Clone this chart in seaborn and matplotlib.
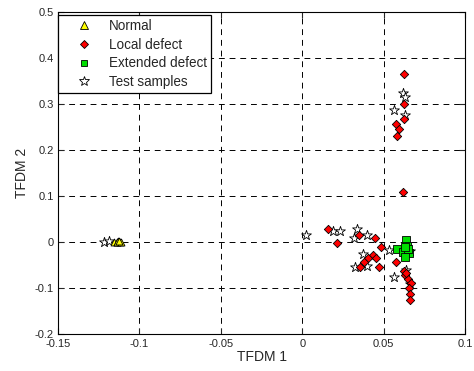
import numpy as np
import pandas as pd
import matplotlib
matplotlib.use("Agg")
import matplotlib.pyplot as plt
import seaborn as sns
from matplotlib.lines import Line2D

sns.set_style("white")
plt.rcParams['font.family'] = ['Liberation Sans', 'DejaVu Sans']

# Class "Normal"
normal_x = [-0.1154, -0.1140, -0.1130, -0.1120, -0.1135, -0.1115, -0.1125]
normal_y = [0.0010, 0.0000, 0.0015, -0.0010, -0.0005, 0.0005, 0.0020]

# Class "Local defect"
local_x = [0.0156, 0.0212, 0.0346, 0.0449, 0.0486, 0.0432, 0.0407, 0.0381,
           0.0356, 0.0455, 0.0469, 0.0578, 0.0624, 0.0634, 0.0648, 0.0669,
           0.0654, 0.0665, 0.0661, 0.0640, 0.0623, 0.0625, 0.0628, 0.0578,
           0.0593, 0.0580, 0.0617]
local_y = [0.0289, -0.0022, 0.0163, 0.0089, -0.0119, -0.0282, -0.0356, -0.0430,
           -0.0541, -0.0341, -0.0541, -0.0445, -0.0637, -0.0726, -0.0800, -0.0890,
           -0.1000, -0.1120, -0.1260, -0.0680, 0.3660, 0.2990, 0.2680, 0.2570,
           0.2460, 0.2310, 0.1090]

# Class "Extended defect"
extended_x = [0.0640, 0.0582, 0.0617, 0.0644, 0.0654, 0.0634, 0.0648, 0.0630]
extended_y = [0.0052, -0.0156, -0.0207, -0.0096, -0.0245, -0.0319, -0.0150, -0.0100]

# Unlabelled test samples
test_x = [-0.1216, -0.1185, 0.0023, 0.0191, 0.0233,
          0.0335, 0.0319, 0.0401, 0.0372, 0.0325, 0.0397, 0.0531, 0.0566,
          0.0665, 0.0617, 0.0630, 0.0566, 0.0634, 0.0660, 0.0640]
test_y = [0.0000, 0.0015, 0.0163, 0.0237, 0.0237,
          0.0289, 0.0089, 0.0163, -0.0267, -0.0541, -0.0526, -0.0170, -0.0763,
          -0.0910, 0.3240, 0.3160, 0.2870, 0.2760, -0.0200, -0.0600]

x_ticks = [-0.15, -0.1, -0.05, 0, 0.05, 0.1]
y_ticks = [-0.2, -0.1, 0, 0.1, 0.2, 0.3, 0.4, 0.5]

fig = plt.figure(figsize=(4.74, 3.71), dpi=100)
ax = fig.add_axes([0.1224, 0.0997, 0.8586, 0.868])

grid_style = dict(color='black', linewidth=0.7, linestyle=(0, (6, 5)), zorder=0)
for xv in x_ticks[1:-1]:
    ax.axvline(xv, **grid_style)
for yv in y_ticks[1:-1]:
    ax.axhline(yv, **grid_style)

sns.scatterplot(x=test_x, y=test_y, marker='*', s=55, color='white',
                edgecolor='black', linewidth=0.6, ax=ax, zorder=3)
sns.scatterplot(x=local_x, y=local_y, marker='D', s=18, color='red',
                edgecolor='black', linewidth=0.6, ax=ax, zorder=4)
sns.scatterplot(x=extended_x, y=extended_y, marker='s', s=30, color='#00dd00',
                edgecolor='black', linewidth=0.6, ax=ax, zorder=4)
sns.scatterplot(x=normal_x, y=normal_y, marker='^', s=25, color='yellow',
                edgecolor='black', linewidth=0.6, ax=ax, zorder=4)

ax.set_xlim(-0.15, 0.1)
ax.set_ylim(-0.2, 0.5)
ax.set_xticks(x_ticks)
ax.set_xticklabels(['-0.15', '-0.1', '-0.05', '0', '0.05', '0.1'])
ax.set_yticks(y_ticks)
ax.set_yticklabels(['-0.2', '-0.1', '0', '0.1', '0.2', '0.3', '0.4', '0.5'])
ax.tick_params(direction='in', length=4, width=0.8, labelsize=8,
               top=True, right=True, bottom=True, left=True)
ax.tick_params(axis='x', pad=3.5)
ax.tick_params(axis='y', pad=3)
for sp in ax.spines.values():
    sp.set_color('black')
    sp.set_linewidth(0.8)
ax.set_xlabel('TFDM 1', fontsize=10, labelpad=1)
ax.set_ylabel('TFDM 2', fontsize=10, labelpad=4)

handles = [
    Line2D([], [], marker='^', linestyle='none', markersize=6,
           markerfacecolor='yellow', markeredgecolor='black', markeredgewidth=0.6),
    Line2D([], [], marker='D', linestyle='none', markersize=4.3,
           markerfacecolor='red', markeredgecolor='black', markeredgewidth=0.6),
    Line2D([], [], marker='s', linestyle='none', markersize=5,
           markerfacecolor='#00dd00', markeredgecolor='black', markeredgewidth=0.6),
    Line2D([], [], marker='*', linestyle='none', markersize=7,
           markerfacecolor='white', markeredgecolor='black', markeredgewidth=0.6),
]
labels = ['Normal', 'Local defect', 'Extended defect', 'Test samples']
leg = ax.legend(handles, labels, loc='upper left', bbox_to_anchor=(0, 0.991),
                fontsize=9.75, frameon=True, fancybox=False, borderaxespad=0,
                handletextpad=0.15, labelspacing=0.35, borderpad=0.3,
                handlelength=3.3)
leg.get_frame().set_edgecolor('black')
leg.get_frame().set_linewidth(0.9)
leg.get_frame().set_alpha(1)
leg.set_zorder(10)

fig.savefig('out.png', dpi=100)
